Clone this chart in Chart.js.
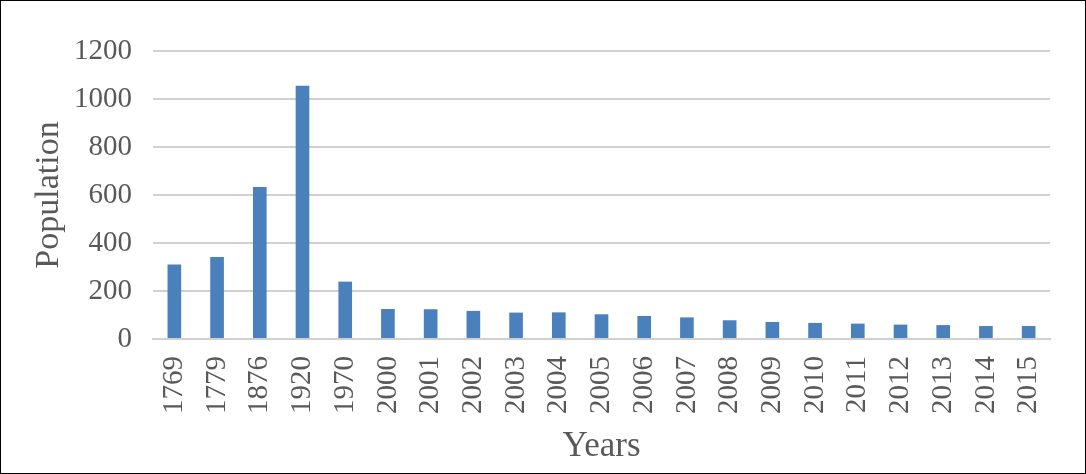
<!DOCTYPE html>
<html><head><meta charset="utf-8">
<script src="https://cdn.jsdelivr.net/npm/chart.js@4/dist/chart.umd.min.js"></script>
<style>
html,body{margin:0;padding:0;background:#fff;}
#wrap{width:1086px;height:474px;box-sizing:border-box;border:1px solid #000;position:relative;}
canvas{display:block;}
</style></head><body>
<div id="wrap"><canvas id="c" width="1084" height="472"></canvas></div>
<script>
const categories = ["1769","1779","1876","1920","1970","2000","2001","2002","2003","2004","2005","2006","2007","2008","2009","2010","2011","2012","2013","2014","2015"];
const population = [310,342,633,1055,239,125,124,117,110,111,103,96,90,78,71,67,64,60,58,54,54];
const yTicks = [0,200,400,600,800,1000,1200];

const txt = '#595959';
const font = 'Liberation Serif';
new Chart(document.getElementById('c'), {
  type: 'bar',
  data: { labels: categories, datasets: [{ data: population, backgroundColor: '#4a81bd', borderWidth: 0, barPercentage: 0.32, categoryPercentage: 1 }] },
  options: {
    responsive: false, animation: false,
    layout: { padding: { left: 24, right: 35, top: 50, bottom: 1 } },
    plugins: { legend: { display: false }, tooltip: { enabled: false } },
    scales: {
      x: {
        grid: { display: false },
        border: { display: true, color: '#d0d0d0', width: 2 },
        ticks: { color: txt, font: { family: font, size: 29 }, minRotation: 90, maxRotation: 90, padding: 9 },
        title: { display: true, text: 'Years', color: txt, font: { family: font, size: 35 }, padding: { top: 3 } }
      },
      y: {
        min: 0, max: 1200,
        afterBuildTicks: (s) => { s.ticks = yTicks.map(v => ({ value: v })); },
        afterFit: (s) => { s.width = 128; },
        grid: { color: '#d0d0d0', lineWidth: 2, drawTicks: false },
        border: { display: false },
        ticks: { color: txt, font: { family: font, size: 29 }, padding: 21, callback: (v) => String(v) },
        title: { display: true, text: 'Population', color: txt, font: { family: font, size: 34 }, padding: { top: 4, bottom: 4 } }
      }
    }
  }
});
</script>
</body></html>
